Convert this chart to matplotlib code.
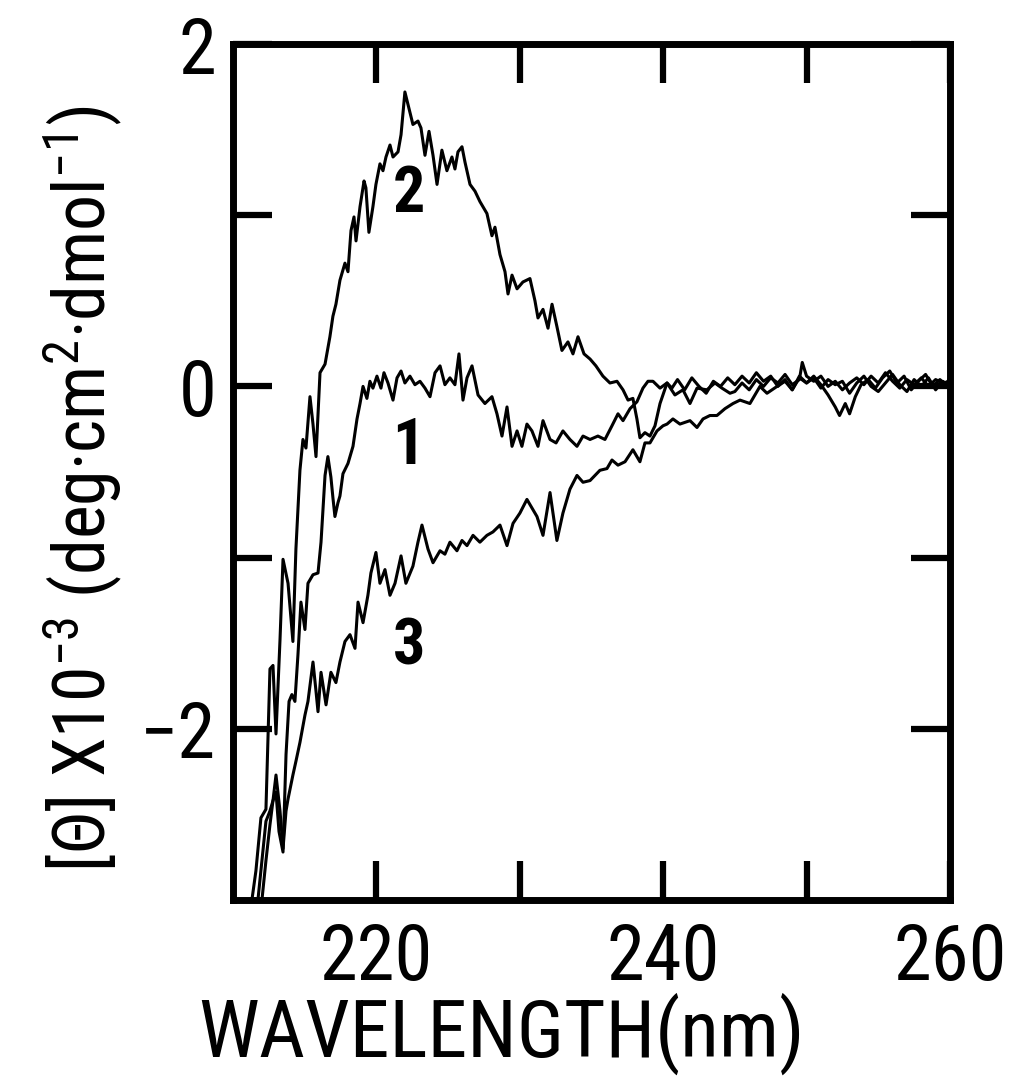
import matplotlib
matplotlib.use("Agg")
import matplotlib.pyplot as plt
import matplotlib.font_manager as fm

# ---------------- data ----------------
wl1 = [211.74, 212.02, 212.30, 212.58, 212.79, 213.00, 213.21, 213.49, 213.70, 213.91,
       214.11, 214.32, 214.53, 214.74, 215.02, 215.23, 215.58, 215.93, 216.14, 216.42,
       216.62, 216.83, 216.97, 217.11, 217.32, 217.46, 217.67, 218.02, 218.37, 218.65,
       218.86, 219.07, 219.34, 219.55, 219.76, 220.04, 220.32, 220.53, 220.81, 221.16,
       221.44, 221.72, 221.99, 222.34, 222.69, 223.04, 223.39, 223.74, 224.09, 224.44,
       224.78, 225.13, 225.48, 225.76, 226.04, 226.32, 226.67, 227.09, 227.57, 228.06,
       228.41, 228.76, 229.11, 229.46, 229.81, 230.15, 230.50, 230.85, 231.27, 231.62,
       232.11, 232.53, 233.01, 233.50, 233.99, 234.41, 234.90, 235.45, 235.94, 236.43,
       236.85, 237.20, 237.69, 238.17, 238.59, 238.94, 239.29, 239.78, 240.27, 240.82,
       241.38, 241.87, 242.36, 243.05, 243.61, 244.10, 244.66, 245.0, 245.5, 246.0,
       246.5, 247.0, 247.5, 248.0, 248.5, 249.0, 249.5, 249.7, 250.0, 250.5,
       251.0, 251.5, 252.0, 252.5, 253.0, 253.5, 254.0, 254.5, 255.0, 255.5,
       256.0, 256.5, 257.0, 257.5, 258.0, 258.5, 259.0, 259.5, 260.0]
th1 = [-3.00, -2.77, -2.54, -2.48, -2.42, -2.37, -2.60, -2.72, -2.15, -1.84,
       -1.80, -1.84, -1.57, -1.26, -1.42, -1.15, -1.10, -1.09, -0.91, -0.52,
       -0.41, -0.53, -0.65, -0.76, -0.68, -0.64, -0.51, -0.45, -0.35, -0.19,
       -0.10, 0.00, -0.07, 0.03, -0.01, 0.06, -0.01, 0.08, 0.02, -0.08,
       0.05, 0.09, 0.02, 0.06, 0.01, 0.03, -0.01, -0.06, 0.08, 0.12,
       0.01, 0.05, 0.01, 0.19, -0.08, 0.05, 0.12, -0.05, -0.10, -0.06,
       -0.16, -0.29, -0.12, -0.35, -0.26, -0.35, -0.22, -0.26, -0.35, -0.20,
       -0.31, -0.33, -0.26, -0.31, -0.35, -0.29, -0.31, -0.29, -0.31, -0.23,
       -0.16, -0.20, -0.13, -0.09, -0.01, 0.03, 0.03, -0.01, 0.02, -0.05,
       -0.02, -0.10, -0.01, -0.02, 0.02, -0.01, -0.04, -0.03, 0.02, -0.02,
       0.04, 0.00, 0.05, 0.02, 0.07, 0.01, 0.04, 0.14, 0.06, 0.03,
       0.06, 0.00, 0.03, -0.02, 0.02, 0.05, 0.01, 0.06, 0.02, 0.08,
       0.03, -0.01, 0.04, 0.01, 0.05, 0.00, 0.04, 0.02, 0.03]

wl2 = [211.32, 211.60, 211.95, 212.30, 212.58, 212.79, 213.00, 213.28, 213.49, 213.84,
       214.18, 214.39, 214.67, 214.88, 215.09, 215.37, 215.58, 215.79, 216.07, 216.42,
       216.76, 216.97, 217.18, 217.46, 217.81, 218.02, 218.23, 218.44, 218.58, 218.86,
       219.14, 219.27, 219.48, 219.76, 219.97, 220.25, 220.46, 220.67, 220.95, 221.16,
       221.51, 221.72, 221.99, 222.34, 222.55, 222.90, 223.11, 223.39, 223.67, 223.95,
       224.23, 224.57, 224.92, 225.27, 225.48, 225.69, 225.97, 226.18, 226.53, 226.88,
       227.22, 227.71, 228.06, 228.27, 228.62, 228.97, 229.18, 229.46, 229.81, 230.22,
       230.71, 231.06, 231.27, 231.62, 231.97, 232.25, 232.59, 232.94, 233.36, 233.71,
       234.06, 234.48, 234.90, 235.31, 235.80, 236.29, 236.78, 237.20, 237.55, 237.89,
       238.17, 238.38, 238.73, 239.08, 239.43, 239.78, 240.27, 240.61, 241.0, 241.5,
       242.0, 242.5, 243.0, 243.5, 244.0, 244.5, 245.0, 245.5, 246.0, 246.5,
       247.0, 247.5, 248.0, 248.5, 249.0, 249.5, 250.0, 250.5, 251.0, 251.5,
       252.0, 252.3, 252.7, 253.0, 253.4, 253.8, 254.3, 254.8, 255.3, 255.8,
       256.3, 256.8, 257.3, 257.8, 258.3, 258.8, 259.3, 259.7, 260.0]
th2 = [-3.00, -2.83, -2.52, -2.47, -1.65, -1.63, -2.03, -1.48, -1.01, -1.15,
       -1.49, -0.95, -0.49, -0.31, -0.36, -0.06, -0.22, -0.41, 0.08, 0.13,
       0.29, 0.41, 0.48, 0.62, 0.72, 0.67, 0.91, 0.99, 0.85, 1.05,
       1.20, 1.16, 0.90, 1.05, 1.18, 1.30, 1.26, 1.34, 1.41, 1.34,
       1.37, 1.47, 1.72, 1.60, 1.53, 1.55, 1.51, 1.35, 1.49, 1.35,
       1.18, 1.38, 1.26, 1.34, 1.27, 1.37, 1.40, 1.31, 1.18, 1.14,
       1.08, 1.01, 0.88, 0.93, 0.77, 0.67, 0.54, 0.65, 0.57, 0.61,
       0.63, 0.50, 0.40, 0.45, 0.34, 0.48, 0.35, 0.21, 0.26, 0.19,
       0.29, 0.19, 0.16, 0.12, 0.06, 0.02, 0.03, -0.02, -0.08, -0.07,
       -0.19, -0.30, -0.27, -0.29, -0.23, -0.10, 0.02, -0.01, 0.04, -0.02,
       0.05, 0.00, -0.04, 0.03, 0.00, 0.05, 0.01, 0.06, 0.02, 0.08,
       0.03, 0.06, 0.00, 0.04, -0.02, 0.05, 0.02, 0.06, 0.01, -0.05,
       -0.12, -0.17, -0.10, -0.16, -0.06, 0.01, 0.04, -0.01, 0.05, 0.09,
       0.02, 0.06, -0.02, 0.03, 0.07, 0.00, 0.04, 0.01, 0.05]

wl3 = [212.02, 212.30, 212.58, 212.79, 213.00, 213.28, 213.49, 213.70, 213.84, 214.18,
       214.39, 214.67, 215.02, 215.23, 215.58, 215.79, 215.93, 216.14, 216.49, 216.83,
       217.18, 217.46, 217.81, 218.16, 218.51, 218.72, 219.07, 219.41, 219.62, 219.97,
       220.25, 220.60, 220.95, 221.30, 221.72, 222.06, 222.55, 222.90, 223.18, 223.60,
       223.95, 224.44, 224.78, 225.13, 225.62, 225.97, 226.32, 226.74, 227.22, 227.71,
       228.13, 228.62, 229.11, 229.53, 230.01, 230.50, 230.85, 231.20, 231.62, 232.11,
       232.59, 233.01, 233.50, 233.99, 234.41, 234.90, 235.59, 236.08, 236.43, 236.85,
       237.34, 237.89, 238.38, 238.73, 239.08, 239.57, 239.99, 240.27, 240.68, 241.17,
       241.87, 242.36, 242.78, 243.26, 243.75, 244.31, 244.87, 245.36, 246.05, 246.75,
       247.24, 247.94, 248.5, 249.0, 249.5, 250.0, 250.5, 251.0, 251.5, 252.0,
       252.5, 253.0, 253.5, 254.0, 254.5, 255.0, 255.5, 256.0, 256.5, 257.0,
       257.5, 258.0, 258.5, 259.0, 259.5, 260.0]
th3 = [-3.00, -2.77, -2.56, -2.42, -2.27, -2.48, -2.70, -2.48, -2.41, -2.27,
       -2.19, -2.08, -1.92, -1.84, -1.61, -1.78, -1.90, -1.67, -1.86, -1.67,
       -1.73, -1.61, -1.49, -1.45, -1.53, -1.26, -1.38, -1.22, -1.09, -0.97,
       -1.15, -1.07, -1.22, -1.15, -0.99, -1.15, -1.05, -0.91, -0.81, -0.95,
       -1.03, -0.96, -0.98, -0.91, -0.96, -0.90, -0.93, -0.87, -0.91, -0.87,
       -0.85, -0.81, -0.93, -0.80, -0.74, -0.66, -0.71, -0.76, -0.87, -0.62,
       -0.90, -0.74, -0.60, -0.52, -0.56, -0.55, -0.49, -0.48, -0.43, -0.46,
       -0.44, -0.37, -0.44, -0.33, -0.33, -0.26, -0.23, -0.22, -0.19, -0.22,
       -0.20, -0.24, -0.19, -0.17, -0.17, -0.13, -0.10, -0.08, -0.10, 0.00,
       -0.04, 0.00, 0.03, -0.02, 0.06, 0.02, 0.05, -0.01, 0.04, 0.01,
       0.03, -0.04, 0.02, 0.06, 0.00, -0.03, 0.02, 0.07, 0.01, -0.03,
       0.04, 0.00, 0.05, -0.02, 0.03, 0.00]

x_ticks = [220, 230, 240, 250, 260]
x_ticklabels = ["220", "", "240", "", "260"]
y_ticks = [-2, -1, 0, 1, 2]
y_ticklabels = ["\u22122", "", "0", "", "2"]
curve_labels = ["1", "2", "3"]
label_pos_wl = [222.2, 222.3, 222.3]
label_pos_th = [-0.35, 1.12, -1.52]

# ---------------- fonts ----------------
avail = {f.name for f in fm.fontManager.ttflist}
narrow = next((n for n in ["Liberation Sans Narrow", "Roboto Condensed",
                           "Open Sans Condensed", "Noto Sans Condensed",
                           "DejaVu Sans Condensed"] if n in avail), None)
FONT = narrow if narrow else "Liberation Sans"
S = 1.15 if narrow else 1.0
plt.rcParams["font.family"] = [FONT, "DejaVu Sans"]
plt.rcParams["mathtext.fontset"] = "custom"
plt.rcParams["mathtext.rm"] = FONT
plt.rcParams["mathtext.it"] = FONT
plt.rcParams["mathtext.bf"] = FONT + ":bold"

fig = plt.figure(figsize=(10.16, 10.79), dpi=100)
ax = fig.add_axes([0.2293, 0.1659, 0.7057, 0.7933])

for wl, th in [(wl1, th1), (wl2, th2), (wl3, th3)]:
    ax.plot(wl, th, color="black", lw=2.2, solid_joinstyle="round")

ax.set_xlim(210, 260)
ax.set_ylim(-3, 2)
ax.set_xticks(x_ticks)
ax.set_xticklabels(x_ticklabels)
ax.set_yticks(y_ticks)
ax.set_yticklabels(y_ticklabels)

for s in ax.spines.values():
    s.set_linewidth(5)
ax.tick_params(axis="both", which="major", direction="in", length=28, width=4.5,
               top=True, right=True, labelsize=48 * S)
ax.tick_params(axis="x", pad=15)
ax.tick_params(axis="y", pad=12)

for lab, lx, ly in zip(curve_labels, label_pos_wl, label_pos_th):
    ax.text(lx, ly, lab, fontsize=40 * S, fontweight="bold", ha="center", va="center")

ax.set_xlabel("WAVELENGTH(nm)", fontsize=50 * S)
ax.xaxis.set_label_coords(0.375, -0.108)
ax.set_ylabel(r"[Θ] X10$^{-3}$ (deg·cm$^{2}$·dmol$^{-1}$)", fontsize=45 * S)
ax.yaxis.set_label_coords(-0.152, 0.481)

fig.savefig("out.png", dpi=100)
